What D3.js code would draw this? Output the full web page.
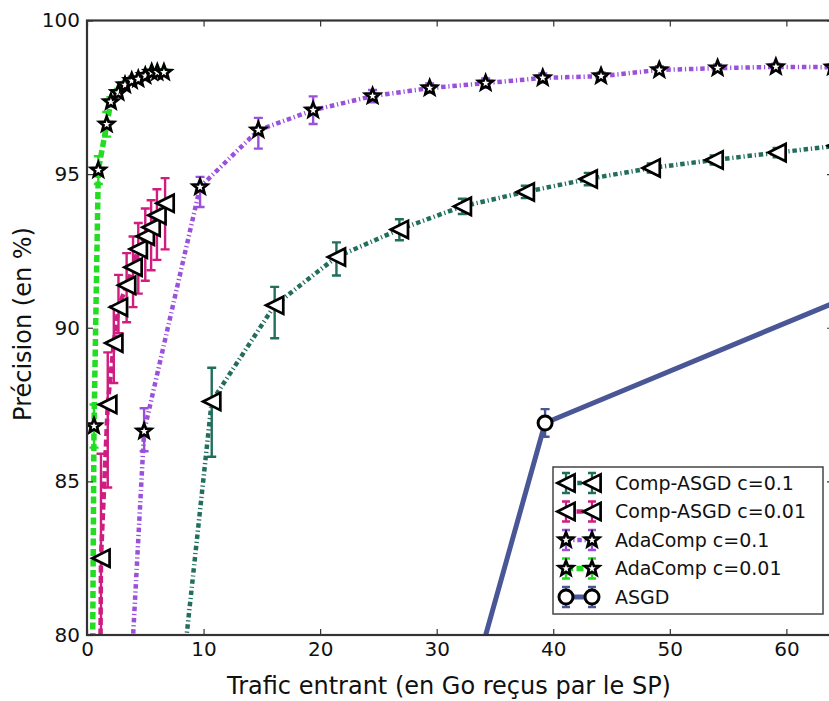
<!DOCTYPE html>
<html>
<head>
<meta charset="utf-8">
<script src="https://cdn.jsdelivr.net/npm/d3@7"></script>
<style>
  html, body { margin: 0; padding: 0; background: #fff; }
  svg { display: block; }
  text { font-family: "DejaVu Sans", sans-serif; }
</style>
</head>
<body>
<svg id="chart" width="829" height="701"></svg>
<script>
// ---------------- DATA ----------------
const seriesNames = ["Comp-ASGD c=0.1", "Comp-ASGD c=0.01", "AdaComp c=0.1", "AdaComp c=0.01", "ASGD"];

const xTicks = [0, 10, 20, 30, 40, 50, 60];
const yTicks = [80, 85, 90, 95, 100];
const xLabel = "Trafic entrant (en Go reçus par le SP)";
const yLabel = "Précision (en %)";

// Comp-ASGD c=0.1
const tealX  = [5.3, 10.7, 16.1, 21.4, 26.8, 32.2, 37.6, 43.0, 48.4, 53.8, 59.2, 64.3];
const tealY  = [68.5, 87.6, 90.73, 92.3, 93.2, 93.95, 94.42, 94.84, 95.2, 95.46, 95.7, 95.92];
const tealLo = [0, 1.8, 1.07, 0.6, 0.35, 0.25, 0.2, 0.2, 0.15, 0.15, 0.15, 0.15];
const tealHi = [0, 1.1, 0.6, 0.48, 0.33, 0.25, 0.2, 0.2, 0.15, 0.15, 0.15, 0.15];

// Comp-ASGD c=0.01
const magX  = [0.55, 1.2, 1.78, 2.3, 2.7, 3.4, 3.95, 4.4, 5.0, 5.5, 6.0, 6.7];
const magY  = [40, 82.5, 87.5, 89.5, 90.67, 91.38, 91.97, 92.56, 92.98, 93.27, 93.66, 94.05];
const magLo = [0, 3.4, 2.7, 1.3, 0.85, 1.2, 1.3, 1.45, 1.45, 1.4, 1.45, 1.5];
const magHi = [0, 3.4, 1.7, 1.2, 1.05, 1.05, 1.0, 0.85, 0.9, 0.88, 0.85, 0.82];

// AdaComp c=0.1
const purX  = [0.05, 4.9, 9.7, 14.7, 19.4, 24.5, 29.4, 34.2, 39.1, 44.1, 49.1, 54.1, 59.1, 64.0];
const purY  = [52.5, 86.63, 94.58, 96.43, 97.08, 97.54, 97.8, 97.96, 98.13, 98.19, 98.39, 98.45, 98.49, 98.48];
const purLo = [0, 0.65, 0.65, 0.6, 0.45, 0.2, 0.15, 0.15, 0.15, 0.12, 0.12, 0.12, 0.1, 0.1];
const purHi = [0, 0.75, 0.33, 0.4, 0.45, 0.2, 0.15, 0.15, 0.15, 0.12, 0.12, 0.12, 0.1, 0.1];

// AdaComp c=0.01
const grnX  = [0.05, 0.6, 0.97, 1.69, 2.05, 2.69, 3.26, 3.84, 4.4, 5.0, 5.55, 6.03, 6.6];
const grnY  = [52.5, 86.8, 95.13, 96.62, 97.35, 97.65, 97.9, 98.04, 98.09, 98.2, 98.31, 98.31, 98.31];
const grnLo = [0, 0.7, 0.45, 0.4, 0.15, 0.12, 0.1, 0.1, 0.1, 0.1, 0.1, 0.1, 0.1];
const grnHi = [0, 0.7, 0.45, 0.4, 0.15, 0.12, 0.1, 0.1, 0.1, 0.1, 0.1, 0.1, 0.1];

// ASGD
const asgX  = [0, 39.3, 78.6];
const asgY  = [33.7, 86.9, 93.1];
const asgLo = [0, 0.45, 0.4];
const asgHi = [0, 0.45, 0.4];

// ---------------- STYLE ----------------
const colors  = ["#226e5d", "#cf1d80", "#9b50dc", "#22dd22", "#4a5797"];
const dashes  = ["4.5,2.8,1.2,2.8", "7,3.5", "4.5,2.8,1.2,2.8", "7,3.5", null];
const widths  = [4.5, 4.5, 4.5, 5.5, 5];
const markers = ["tri", "tri", "star", "star", "circle"];

const series = [
  {x: tealX, y: tealY, lo: tealLo, hi: tealHi},
  {x: magX,  y: magY,  lo: magLo,  hi: magHi},
  {x: purX,  y: purY,  lo: purLo,  hi: purHi},
  {x: grnX,  y: grnY,  lo: grnLo,  hi: grnHi},
  {x: asgX,  y: asgY,  lo: asgLo,  hi: asgHi}
].map((s, i) => ({
  name: seriesNames[i], color: colors[i], dash: dashes[i], width: widths[i], marker: markers[i],
  pts: s.x.map((xv, j) => ({x: xv, y: s.y[j], lo: s.lo[j], hi: s.hi[j]}))
}));

// ---------------- LAYOUT ----------------
const svg = d3.select("#chart");
const L = 87, R = 833, T = 20.5, B = 635;
const x = d3.scaleLinear().domain([0, 64]).range([L, R]);
const y = d3.scaleLinear().domain([80, 100]).range([B, T]);

svg.append("defs").append("clipPath").attr("id", "clip")
  .append("rect").attr("x", L).attr("y", T).attr("width", R - L).attr("height", B - T);

function starPath(R0) {
  const r0 = R0 * 0.43;
  let p = [];
  for (let k = 0; k < 10; k++) {
    const a = -Math.PI / 2 + k * Math.PI / 5;
    const rr = k % 2 === 0 ? R0 : r0;
    p.push([rr * Math.cos(a), rr * Math.sin(a)]);
  }
  return "M" + p.map(d => d.join(",")).join("L") + "Z";
}
function triPath(s) {
  return `M${-s},0L${s},${s}L${s},${-s}Z`;
}
function markerPath(m) {
  if (m === "tri") return triPath(8.6);
  if (m === "star") return starPath(7.6);
  return d3.symbol(d3.symbolCircle, Math.PI * 7 * 7)();
}

const plot = svg.append("g").attr("clip-path", "url(#clip)");

const line = d3.line().x(d => x(d.x)).y(d => y(d.y));

series.forEach(s => {
  const g = plot.append("g");
  g.append("path").datum(s.pts)
    .attr("d", line)
    .attr("fill", "none")
    .attr("stroke", s.color)
    .attr("stroke-width", s.width)
    .attr("stroke-dasharray", s.dash)
    .attr("stroke-linejoin", "round");
  const eb = s.pts.filter(d => d.lo > 0 || d.hi > 0);
  g.selectAll(".eb").data(eb).enter().append("path")
    .attr("d", d => {
      const cx = x(d.x), y1 = y(d.y + d.hi), y2 = y(d.y - d.lo), c = 4.5;
      return `M${cx},${y1}L${cx},${y2}M${cx - c},${y1}L${cx + c},${y1}M${cx - c},${y2}L${cx + c},${y2}`;
    })
    .attr("fill", "none").attr("stroke", s.color).attr("stroke-width", 2.4);
});
series.forEach(s => {
  plot.append("g").selectAll("path").data(s.pts).enter().append("path")
    .attr("transform", d => `translate(${x(d.x)},${y(d.y)})`)
    .attr("d", markerPath(s.marker))
    .attr("fill", "#fff").attr("stroke", "#000").attr("stroke-width", s.marker === "circle" ? 3 : 2.7)
    .attr("stroke-linejoin", "miter");
});

// ---------------- AXES ----------------
const axisColor = "#333";
const gx = svg.append("g").attr("transform", `translate(0,${B})`)
  .call(d3.axisBottom(x).tickValues(xTicks).tickSizeInner(-6).tickSizeOuter(0).tickPadding(7));
const gxt = svg.append("g").attr("transform", `translate(0,${T})`)
  .call(d3.axisTop(x).tickValues(xTicks).tickSizeInner(-6).tickSizeOuter(0).tickFormat(""));
const gy = svg.append("g").attr("transform", `translate(${L},0)`)
  .call(d3.axisLeft(y).tickValues(yTicks).tickSizeInner(-6).tickSizeOuter(0).tickPadding(7));
const gyr = svg.append("g").attr("transform", `translate(${R},0)`)
  .call(d3.axisRight(y).tickValues(yTicks).tickSizeInner(-6).tickSizeOuter(0).tickFormat(""));
[gx, gxt, gy, gyr].forEach(g => {
  g.select(".domain").remove();
  g.selectAll(".tick line").attr("stroke", axisColor).attr("stroke-width", 1.2);
  g.selectAll(".tick text").attr("font-size", 20).attr("fill", "#111")
    .attr("font-family", "DejaVu Sans, sans-serif");
});

svg.append("rect").attr("x", L).attr("y", T).attr("width", R - L).attr("height", B - T)
  .attr("fill", "none").attr("stroke", axisColor).attr("stroke-width", 2.2);

svg.append("text").attr("x", 449).attr("y", 694)
  .attr("text-anchor", "middle").attr("font-size", 24).attr("fill", "#111").text(xLabel);
svg.append("text").attr("transform", `translate(31,324) rotate(-90)`)
  .attr("text-anchor", "middle").attr("font-size", 24).attr("fill", "#111").text(yLabel);

// ---------------- LEGEND ----------------
const lg = svg.append("g");
lg.append("rect").attr("x", 553).attr("y", 467).attr("width", 270).attr("height", 147)
  .attr("fill", "#fff").attr("stroke", "#444").attr("stroke-width", 1.5);
const rowY = i => 483 + i * 28.5;
series.forEach((s, i) => {
  const ry = rowY(i);
  const g = lg.append("g");
  g.append("line").attr("x1", 566).attr("x2", 592).attr("y1", ry).attr("y2", ry)
    .attr("stroke", s.color).attr("stroke-width", s.width).attr("stroke-dasharray", s.dash);
  [566, 592].forEach(mx => {
    g.append("path").attr("d", `M${mx},${ry - 10}L${mx},${ry + 10}M${mx - 4},${ry - 10}L${mx + 4},${ry - 10}M${mx - 4},${ry + 10}L${mx + 4},${ry + 10}`)
      .attr("stroke", s.color).attr("stroke-width", 2.3).attr("fill", "none");
    g.append("path").attr("transform", `translate(${mx},${ry})`).attr("d", markerPath(s.marker))
      .attr("fill", "#fff").attr("stroke", "#000").attr("stroke-width", s.marker === "circle" ? 3 : 2.7);
  });
  g.append("text").attr("x", 615).attr("y", ry).attr("dy", "0.36em")
    .attr("font-size", 19).attr("fill", "#111").text(s.name);
});
</script>
</body>
</html>
